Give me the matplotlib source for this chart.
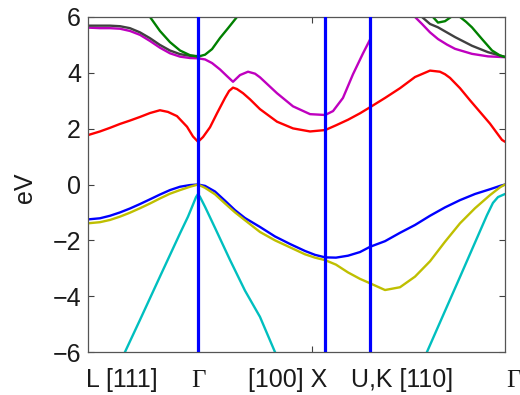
import numpy as np
import matplotlib
matplotlib.use("Agg")
import matplotlib.pyplot as plt

nan = np.nan

# High-symmetry points along the path (units of 2*pi/a)
k_sym = [0.0, 0.866, 1.866, 2.220, 3.281]
vlines_k = [0.866, 1.866, 2.220]
extra_tick = 1.762

x_labels = ["L [111]", "Γ", "[100] X", "U,K [110]", "Γ"]

# Bands: k positions and energies (eV)
blue_k = [0, .094, .173, .252, .330, .409, .488, .566, .645, .724, .803, .866,
          .921, .999, 1.078, 1.157, 1.235, 1.353, 1.471, 1.589, 1.707, 1.786, 1.866,
          1.951, 2.046, 2.140, 2.220,
          2.337, 2.455, 2.573, 2.691, 2.809, 2.927, 3.045, 3.163, 3.242, 3.281]
blue_E = [-1.25, -1.21, -1.12, -1.0, -0.86, -0.7, -0.53, -0.36, -0.2, -0.08, -0.02, 0,
          -0.05, -0.25, -0.58, -0.92, -1.2, -1.52, -1.86, -2.13, -2.38, -2.52, -2.61,
          -2.62, -2.55, -2.42, -2.23,
          -2.03, -1.73, -1.45, -1.12, -0.82, -0.56, -0.34, -0.17, -0.05, 0]

yellow_k = blue_k
yellow_E = [-1.39, -1.35, -1.27, -1.15, -1.01, -0.85, -0.68, -0.5, -0.33, -0.2, -0.08, 0,
            -0.12, -0.35, -0.68, -1.0, -1.28, -1.7, -2.0, -2.25, -2.5, -2.62, -2.71,
            -2.87, -3.15, -3.38, -3.54,
            -3.78, -3.68, -3.3, -2.75, -2.05, -1.39, -0.85, -0.38, -0.1, 0]

cyan_k = [0.252, 0.291, 0.409, 0.566, 0.724, 0.787, 0.826, 0.850, 0.866,
          0.882, 0.921, 0.999, 1.117, 1.235, 1.353, 1.471, 1.550, nan,
          2.612, 2.667, 2.809, 2.927, 3.045, 3.139, 3.186, 3.226, 3.281]
cyan_E = [-6.4, -6.0, -4.85, -3.3, -1.75, -1.15, -0.72, -0.45, -0.34,
          -0.45, -0.8, -1.55, -2.7, -3.8, -4.74, -6.0, -6.6, nan,
          -6.6, -6.0, -4.53, -3.31, -2.08, -1.1, -0.66, -0.45, -0.34]

red_k = [0, .094, .173, .252, .330, .409, .488, .566, .629, .700, .779, .826, .866,
         .905, .960, 1.015, 1.078, 1.110, 1.141, 1.172, 1.220, 1.275, 1.353, 1.487, 1.613, 1.747, 1.866,
         1.951, 2.046, 2.140, 2.220,
         2.337, 2.455, 2.573, 2.691, 2.769, 2.809, 2.848, 2.927, 3.005, 3.084, 3.163, 3.218, 3.257, 3.281]
red_E = [1.77, 1.9, 2.03, 2.17, 2.29, 2.42, 2.56, 2.66, 2.6, 2.45, 2.07, 1.72, 1.53,
         1.7, 2.05, 2.55, 3.1, 3.35, 3.47, 3.42, 3.27, 3.05, 2.7, 2.25, 2.01, 1.9, 1.95,
         2.12, 2.32, 2.55, 2.77,
         3.1, 3.45, 3.85, 4.08, 4.04, 3.95, 3.82, 3.45, 3.02, 2.6, 2.18, 1.84, 1.6, 1.53]

magenta_k = [0, .094, .173, .252, .330, .409, .488, .566, .645, .724, .803, .866,
             .921, .976, 1.039, 1.094, 1.141, 1.196, 1.259, 1.314, 1.353, 1.487, 1.613, 1.747, 1.866,
             1.928, 2.006, 2.085, 2.164, 2.220, nan,
             2.494, 2.573, 2.628, 2.691, 2.754, 2.825, 2.888, 3.021, 3.147, 3.281]
magenta_E = [5.62, 5.6, 5.6, 5.58, 5.5, 5.36, 5.14, 4.9, 4.7, 4.58, 4.53, 4.52,
             4.48, 4.35, 4.12, 3.88, 3.68, 3.92, 4.04, 3.97, 3.84, 3.27, 2.8, 2.52, 2.49,
             2.63, 3.1, 3.95, 4.7, 5.2, nan,
             6.4, 6.0, 5.75, 5.45, 5.21, 5.01, 4.86, 4.68, 4.59, 4.56]

black_k = [0, .173, .252, .330, .409, .488, .566, .645, .724, .803, .866, nan,
           2.573, 2.628, 2.691, 2.754, 2.888, 3.021, 3.147, 3.281]
black_E = [5.69, 5.69, 5.67, 5.6, 5.45, 5.24, 5.0, 4.8, 4.67, 4.61, 4.6, nan,
           6.3, 6.0, 5.75, 5.63, 5.28, 4.97, 4.74, 4.57]

green_k = [.448, .488, .566, .645, .724, .803, .866,
           .921, .976, 1.039, 1.102, 1.172, 1.235, nan,
           2.675, 2.714, 2.754, 2.809, 2.856, 2.888, 2.927, 2.974, 3.021, 3.100, 3.179, 3.242, 3.281]
green_E = [6.3, 6.0, 5.5, 5.1, 4.8, 4.63, 4.58,
           4.65, 4.85, 5.25, 5.6, 6.0, 6.4, nan,
           6.2, 6.0, 5.8, 5.85, 6.0, 6.05, 6.0, 5.83, 5.63, 5.21, 4.8, 4.62, 4.57]

bands = [
    (blue_k, blue_E, "#0000ff"),
    (yellow_k, yellow_E, "#bfbf00"),
    (cyan_k, cyan_E, "#00bfbf"),
    (red_k, red_E, "#ff0000"),
    (magenta_k, magenta_E, "#bf00bf"),
    (black_k, black_E, "#404040"),
    (green_k, green_E, "#008000"),
]

FS = 18

fig = plt.figure(figsize=(5.2, 3.95), dpi=100)
ax = fig.add_axes([88 / 520, 1 - 352 / 395, (505 - 88) / 520, (352 - 17) / 395])

for kk, ee, c in bands:
    ax.plot(kk, ee, color=c, lw=1.7, solid_capstyle="round", solid_joinstyle="round")

for xv in vlines_k:
    ax.axvline(xv, color="#0000ff", lw=2.3, zorder=5)

ax.set_xlim(k_sym[0], k_sym[-1])
ax.set_ylim(-6, 6)
ax.set_yticks([-6, -4, -2, 0, 2, 4, 6])
ax.set_xticks([k_sym[1], extra_tick, k_sym[2], k_sym[3]])
ax.set_xticklabels([])
ax.tick_params(direction="in", length=4, width=0.8, color="#404040",
               top=True, right=True, labelsize=FS, pad=5, labelcolor="#1a1a1a")
for sp in ax.spines.values():
    sp.set_color("#555555")
    sp.set_linewidth(0.9)
for lab in ax.get_yticklabels():
    lab.set_fontfamily("Liberation Sans")

ax.set_ylabel("eV", fontsize=FS, family="Liberation Sans", color="#1a1a1a")
ax.yaxis.set_label_coords(-0.122, 0.49)

# x labels
label_x = [86 / 520, 198 / 520, 287.5 / 520, 402.5 / 520, 513 / 520]
label_ha = ["left", "center", "center", "center", "center"]
for s, xx, ha in zip(x_labels, label_x, label_ha):
    fam = "Liberation Serif" if s == "Γ" else "Liberation Sans"
    fig.text(xx, 1 - 387 / 395, s, ha=ha, va="baseline", fontsize=FS,
             family=fam, color="#1a1a1a")

fig.savefig("out.png", dpi=100)
